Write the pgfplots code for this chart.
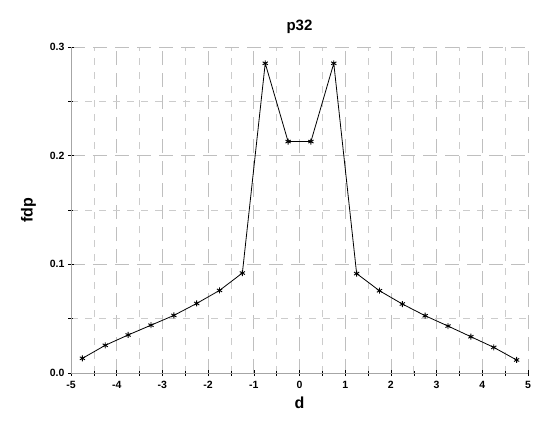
\documentclass[border=0pt]{standalone}
\usepackage{fontspec}
\setmainfont{Liberation Sans}
\usepackage{pgfplots}
\pgfplotsset{compat=1.18}

\pgfplotstableread{
d      fdp
-4.75  0.0135
-4.25  0.0255
-3.75  0.0350
-3.25  0.0440
-2.75  0.0530
-2.25  0.0640
-1.75  0.0760
-1.25  0.0920
-0.75  0.2850
-0.25  0.2130
0.25   0.2130
0.75   0.2850
1.25   0.0915
1.75   0.0757
2.25   0.0635
2.75   0.0527
3.25   0.0432
3.75   0.0334
4.25   0.0236
4.75   0.0120
}\pfddata

\begin{document}
\begin{tikzpicture}
  \path[use as bounding box] (-71pt,-48pt) rectangle (466pt,373pt);
  \begin{axis}[
    scale only axis,
    width=457pt, height=326pt,
    xmin=-5, xmax=5,
    ymin=0, ymax=0.3,
    xtick={-5,...,5},
    minor xtick={-4.5,-3.5,...,4.5},
    ytick={0,0.1,0.2,0.3},
    minor ytick={0.05,0.15,0.25},
    yticklabels={0.0,0.1,0.2,0.3},
    xticklabels={-5,-4,-3,-2,-1,0,1,2,3,4,5},
    every tick label/.append style={font=\fontsize{10.5}{12}\selectfont\bfseries, text=black},
    xticklabel style={yshift=-2pt},
    axis x line*=bottom, axis y line*=left,
    axis line style={gray!70, line width=0.8pt},
    tick align=center,
    major tick length=6pt, minor tick length=5pt,
    tick style={black, line width=0.5pt},
    grid=both,
    major grid style={gray!50, line width=0.7pt, dash pattern=on 14pt off 8pt},
    minor grid style={gray!40, line width=0.6pt, dash pattern=on 7pt off 7pt},
    title={\bfseries p32},
    title style={font=\bfseries\fontsize{15}{17}\selectfont, yshift=4pt},
    xlabel={\bfseries d},
    ylabel={\bfseries fdp},
    label style={font=\bfseries\fontsize{16}{18}\selectfont},
    xlabel style={yshift=-1pt},
    ylabel style={yshift=7pt},
    clip=false,
  ]
    \addplot[black, line width=0.8pt, mark=asterisk, mark size=3pt,
      mark options={line width=0.9pt}] table[x=d, y=fdp] {\pfddata};
  \end{axis}
\end{tikzpicture}
\end{document}
